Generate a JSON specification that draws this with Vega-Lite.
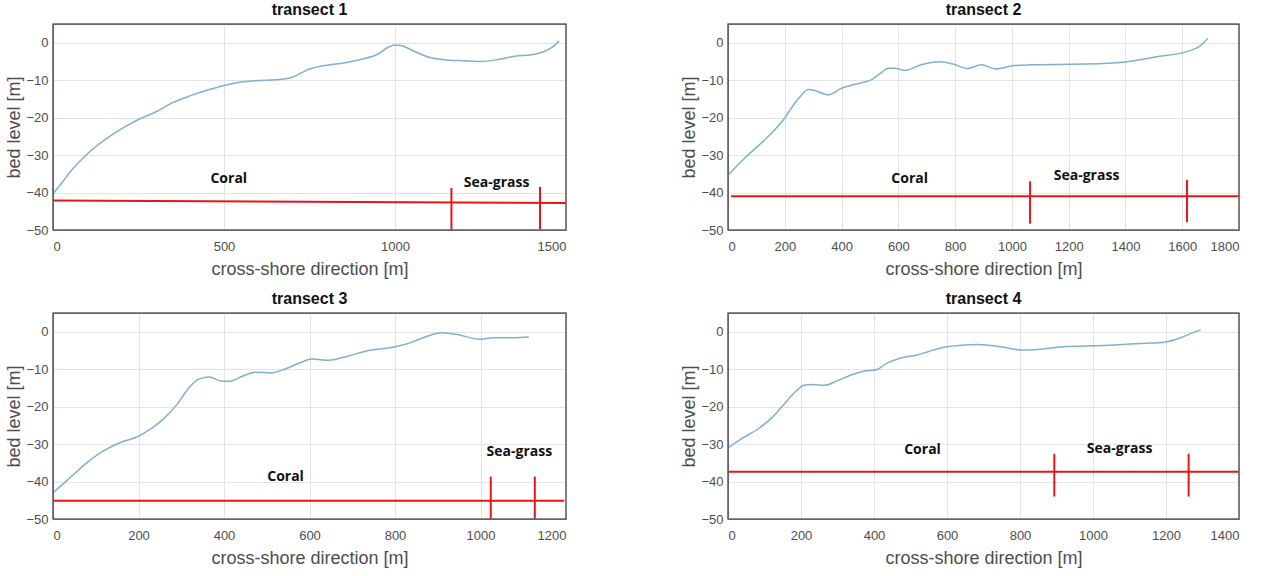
{
  "$schema": "https://vega.github.io/schema/vega-lite/v6.json",
  "padding": {"left": 5, "top": 1, "right": 5, "bottom": 2},
  "background": "white",
  "config": {
    "view": {"stroke": "#6e6e6e", "strokeWidth": 1},
    "title": {"font": "Liberation Sans", "fontSize": 16, "fontWeight": "bold", "color": "#111", "offset": 5},
    "axis": {
      "domain": true, "domainColor": "#6e6e6e", "ticks": false, "format": "d",
      "labelFont": "Liberation Sans", "labelFontSize": 13, "labelColor": "#4d4d4d",
      "titleFont": "Liberation Sans", "titleFontSize": 18, "titleFontWeight": "normal", "titleColor": "#4d4d4d",
      "gridColor": "#e3e3e3", "gridWidth": 1
    },
    "axisX": {"titlePadding": 7, "labelPadding": 10},
    "axisY": {"titlePadding": 2, "labelPadding": 5}
  },
  "datasets": {
    "p1": [
      {"x": 0, "z": -40.3}, {"x": 25, "z": -37.5}, {"x": 50, "z": -34.5}, {"x": 75, "z": -32}, {"x": 100, "z": -29.7},
      {"x": 150, "z": -26}, {"x": 200, "z": -23}, {"x": 250, "z": -20.5}, {"x": 300, "z": -18.5}, {"x": 350, "z": -16},
      {"x": 400, "z": -14.2}, {"x": 450, "z": -12.7}, {"x": 500, "z": -11.4}, {"x": 550, "z": -10.5}, {"x": 600, "z": -10.1},
      {"x": 650, "z": -9.9}, {"x": 700, "z": -9.2}, {"x": 750, "z": -7}, {"x": 800, "z": -6}, {"x": 850, "z": -5.4},
      {"x": 900, "z": -4.5}, {"x": 950, "z": -3}, {"x": 980, "z": -1.2}, {"x": 1000, "z": -0.6}, {"x": 1020, "z": -0.8},
      {"x": 1050, "z": -2}, {"x": 1100, "z": -3.9}, {"x": 1150, "z": -4.6}, {"x": 1200, "z": -4.8}, {"x": 1250, "z": -5},
      {"x": 1300, "z": -4.5}, {"x": 1350, "z": -3.6}, {"x": 1400, "z": -3.2}, {"x": 1440, "z": -2.2}, {"x": 1460, "z": -1.2},
      {"x": 1480, "z": 0.5}
    ],
    "p2": [
      {"x": 0, "z": -35.4}, {"x": 54, "z": -31.2}, {"x": 111, "z": -27.2}, {"x": 154, "z": -24.1}, {"x": 200, "z": -20.1},
      {"x": 232, "z": -16.5}, {"x": 260, "z": -13.9}, {"x": 282, "z": -12.5}, {"x": 303, "z": -12.7}, {"x": 353, "z": -13.9},
      {"x": 402, "z": -12.1}, {"x": 452, "z": -11}, {"x": 509, "z": -9.7}, {"x": 538, "z": -8.1}, {"x": 566, "z": -6.8},
      {"x": 587, "z": -6.8}, {"x": 623, "z": -7.4}, {"x": 680, "z": -5.9}, {"x": 744, "z": -5.1}, {"x": 793, "z": -5.7},
      {"x": 843, "z": -6.9}, {"x": 893, "z": -5.9}, {"x": 943, "z": -7}, {"x": 1007, "z": -6.1}, {"x": 1064, "z": -5.9},
      {"x": 1249, "z": -5.7}, {"x": 1391, "z": -5.2}, {"x": 1505, "z": -3.8}, {"x": 1619, "z": -2.3}, {"x": 1661, "z": -1},
      {"x": 1690, "z": 1.1}
    ],
    "p3": [
      {"x": 0, "z": -43}, {"x": 31, "z": -39.9}, {"x": 79, "z": -35}, {"x": 117, "z": -31.9}, {"x": 155, "z": -29.7},
      {"x": 200, "z": -27.9}, {"x": 232, "z": -25.7}, {"x": 261, "z": -23}, {"x": 290, "z": -19.4}, {"x": 318, "z": -15},
      {"x": 342, "z": -12.6}, {"x": 366, "z": -12.1}, {"x": 395, "z": -13.2}, {"x": 414, "z": -13.2}, {"x": 443, "z": -11.9},
      {"x": 472, "z": -10.8}, {"x": 510, "z": -11}, {"x": 539, "z": -10.1}, {"x": 578, "z": -8.3}, {"x": 606, "z": -7.3},
      {"x": 645, "z": -7.6}, {"x": 693, "z": -6.4}, {"x": 731, "z": -5.2}, {"x": 798, "z": -4.1}, {"x": 837, "z": -2.9},
      {"x": 875, "z": -1.2}, {"x": 909, "z": -0.3}, {"x": 942, "z": -0.7}, {"x": 1000, "z": -2}, {"x": 1029, "z": -1.6},
      {"x": 1077, "z": -1.6}, {"x": 1113, "z": -1.4}
    ],
    "p4": [
      {"x": 0, "z": -31}, {"x": 42, "z": -28.3}, {"x": 86, "z": -25.7}, {"x": 120, "z": -23}, {"x": 153, "z": -19.4},
      {"x": 186, "z": -15.9}, {"x": 208, "z": -14.3}, {"x": 231, "z": -14.1}, {"x": 264, "z": -14.3}, {"x": 297, "z": -13.2},
      {"x": 341, "z": -11.4}, {"x": 375, "z": -10.5}, {"x": 408, "z": -10.1}, {"x": 430, "z": -8.7}, {"x": 474, "z": -7},
      {"x": 519, "z": -6.2}, {"x": 552, "z": -5.2}, {"x": 596, "z": -4.1}, {"x": 641, "z": -3.6}, {"x": 685, "z": -3.4},
      {"x": 752, "z": -4.1}, {"x": 807, "z": -4.9}, {"x": 840, "z": -4.8}, {"x": 918, "z": -4}, {"x": 1029, "z": -3.7},
      {"x": 1140, "z": -3.1}, {"x": 1195, "z": -2.8}, {"x": 1240, "z": -1.6}, {"x": 1273, "z": -0.3}, {"x": 1295, "z": 0.5}
    ],
    "r1": [
      {"x": 0, "x2": 1500, "y": -42.1, "y2": -42.8},
      {"x": 1165, "x2": 1165, "y": -38.8, "y2": -50},
      {"x": 1424, "x2": 1424, "y": -38.5, "y2": -49.9}
    ],
    "r2": [
      {"x": 11, "x2": 1800, "y": -41, "y2": -41},
      {"x": 1064, "x2": 1064, "y": -37, "y2": -48.3},
      {"x": 1617, "x2": 1617, "y": -36.6, "y2": -47.9}
    ],
    "r3": [
      {"x": 0, "x2": 1196, "y": -45.1, "y2": -45.1},
      {"x": 1024, "x2": 1024, "y": -38.7, "y2": -50},
      {"x": 1127, "x2": 1127, "y": -38.7, "y2": -50}
    ],
    "r4": [
      {"x": 0, "x2": 1400, "y": -37.4, "y2": -37.4},
      {"x": 894, "x2": 894, "y": -32.6, "y2": -44},
      {"x": 1262, "x2": 1262, "y": -32.6, "y2": -44}
    ],
    "t1": [{"x": 514, "y": -36.4, "label": "Coral"}, {"x": 1297, "y": -37.5, "label": "Sea-grass"}],
    "t2": [{"x": 640, "y": -36.5, "label": "Coral"}, {"x": 1263, "y": -35.6, "label": "Sea-grass"}],
    "t3": [{"x": 544, "y": -38.9, "label": "Coral"}, {"x": 1091, "y": -32.2, "label": "Sea-grass"}],
    "t4": [{"x": 533, "y": -31.6, "label": "Coral"}, {"x": 1073, "y": -31.3, "label": "Sea-grass"}]
  },
  "vconcat": [
    {
      "hconcat": [
        {
          "width": 513, "height": 206, "title": "transect 1",
          "layer": [
            {"data": {"name": "p1"}, "mark": {"type": "line", "color": "#7fb0cf", "strokeWidth": 1.5, "interpolate": "monotone"},
             "encoding": {
               "x": {"field": "x", "type": "quantitative", "title": "cross-shore direction [m]", "scale": {"domain": [0, 1500], "nice": false}, "axis": {"values": [0, 500, 1000, 1500]}},
               "y": {"field": "z", "type": "quantitative", "title": "bed level [m]", "scale": {"domain": [-50, 5], "nice": false}, "axis": {"values": [0, -10, -20, -30, -40, -50]}}}},
            {"data": {"name": "r1"}, "mark": {"type": "rule", "color": "#e8141a", "strokeWidth": 2},
             "encoding": {"x": {"field": "x", "type": "quantitative", "title": "cross-shore direction [m]"}, "x2": {"field": "x2"}, "y": {"field": "y", "type": "quantitative", "title": "bed level [m]"}, "y2": {"field": "y2"}}},
            {"data": {"name": "t1"}, "mark": {"type": "text", "font": "Open Sans", "fontWeight": "bold", "fontSize": 14, "color": "#111"},
             "encoding": {"x": {"field": "x", "type": "quantitative", "title": "cross-shore direction [m]"}, "y": {"field": "y", "type": "quantitative", "title": "bed level [m]"}, "text": {"field": "label"}}},
            {"data": {"name": "t1"}, "mark": {"type": "rect", "fill": null, "fillOpacity": 0, "stroke": "#626262", "strokeWidth": 1.1},
             "encoding": {"x": {"datum": 0, "type": "quantitative", "title": "cross-shore direction [m]"}, "x2": {"datum": 1500}, "y": {"datum": -50, "type": "quantitative", "title": "bed level [m]"}, "y2": {"datum": 5}}}
          ]
        },
        {
          "width": 511, "height": 206, "title": "transect 2",
          "layer": [
            {"data": {"name": "p2"}, "mark": {"type": "line", "color": "#7fb0cf", "strokeWidth": 1.5, "interpolate": "monotone"},
             "encoding": {
               "x": {"field": "x", "type": "quantitative", "title": "cross-shore direction [m]", "scale": {"domain": [0, 1800], "nice": false}, "axis": {"values": [0, 200, 400, 600, 800, 1000, 1200, 1400, 1600, 1800]}},
               "y": {"field": "z", "type": "quantitative", "title": "bed level [m]", "scale": {"domain": [-50, 5], "nice": false}, "axis": {"values": [0, -10, -20, -30, -40, -50]}}}},
            {"data": {"name": "r2"}, "mark": {"type": "rule", "color": "#e8141a", "strokeWidth": 2},
             "encoding": {"x": {"field": "x", "type": "quantitative", "title": "cross-shore direction [m]"}, "x2": {"field": "x2"}, "y": {"field": "y", "type": "quantitative", "title": "bed level [m]"}, "y2": {"field": "y2"}}},
            {"data": {"name": "t2"}, "mark": {"type": "text", "font": "Open Sans", "fontWeight": "bold", "fontSize": 14, "color": "#111"},
             "encoding": {"x": {"field": "x", "type": "quantitative", "title": "cross-shore direction [m]"}, "y": {"field": "y", "type": "quantitative", "title": "bed level [m]"}, "text": {"field": "label"}}},
            {"data": {"name": "t2"}, "mark": {"type": "rect", "fill": null, "fillOpacity": 0, "stroke": "#626262", "strokeWidth": 1.1},
             "encoding": {"x": {"datum": 0, "type": "quantitative", "title": "cross-shore direction [m]"}, "x2": {"datum": 1800}, "y": {"datum": -50, "type": "quantitative", "title": "bed level [m]"}, "y2": {"datum": 5}}}
          ]
        }
      ],
      "spacing": 112
    },
    {
      "hconcat": [
        {
          "width": 513, "height": 206, "title": "transect 3",
          "layer": [
            {"data": {"name": "p3"}, "mark": {"type": "line", "color": "#7fb0cf", "strokeWidth": 1.5, "interpolate": "monotone"},
             "encoding": {
               "x": {"field": "x", "type": "quantitative", "title": "cross-shore direction [m]", "scale": {"domain": [0, 1200], "nice": false}, "axis": {"values": [0, 200, 400, 600, 800, 1000, 1200]}},
               "y": {"field": "z", "type": "quantitative", "title": "bed level [m]", "scale": {"domain": [-50, 5], "nice": false}, "axis": {"values": [0, -10, -20, -30, -40, -50]}}}},
            {"data": {"name": "r3"}, "mark": {"type": "rule", "color": "#e8141a", "strokeWidth": 2},
             "encoding": {"x": {"field": "x", "type": "quantitative", "title": "cross-shore direction [m]"}, "x2": {"field": "x2"}, "y": {"field": "y", "type": "quantitative", "title": "bed level [m]"}, "y2": {"field": "y2"}}},
            {"data": {"name": "t3"}, "mark": {"type": "text", "font": "Open Sans", "fontWeight": "bold", "fontSize": 14, "color": "#111"},
             "encoding": {"x": {"field": "x", "type": "quantitative", "title": "cross-shore direction [m]"}, "y": {"field": "y", "type": "quantitative", "title": "bed level [m]"}, "text": {"field": "label"}}},
            {"data": {"name": "t3"}, "mark": {"type": "rect", "fill": null, "fillOpacity": 0, "stroke": "#626262", "strokeWidth": 1.1},
             "encoding": {"x": {"datum": 0, "type": "quantitative", "title": "cross-shore direction [m]"}, "x2": {"datum": 1200}, "y": {"datum": -50, "type": "quantitative", "title": "bed level [m]"}, "y2": {"datum": 5}}}
          ]
        },
        {
          "width": 511, "height": 206, "title": "transect 4",
          "layer": [
            {"data": {"name": "p4"}, "mark": {"type": "line", "color": "#7fb0cf", "strokeWidth": 1.5, "interpolate": "monotone"},
             "encoding": {
               "x": {"field": "x", "type": "quantitative", "title": "cross-shore direction [m]", "scale": {"domain": [0, 1400], "nice": false}, "axis": {"values": [0, 200, 400, 600, 800, 1000, 1200, 1400]}},
               "y": {"field": "z", "type": "quantitative", "title": "bed level [m]", "scale": {"domain": [-50, 5], "nice": false}, "axis": {"values": [0, -10, -20, -30, -40, -50]}}}},
            {"data": {"name": "r4"}, "mark": {"type": "rule", "color": "#e8141a", "strokeWidth": 2},
             "encoding": {"x": {"field": "x", "type": "quantitative", "title": "cross-shore direction [m]"}, "x2": {"field": "x2"}, "y": {"field": "y", "type": "quantitative", "title": "bed level [m]"}, "y2": {"field": "y2"}}},
            {"data": {"name": "t4"}, "mark": {"type": "text", "font": "Open Sans", "fontWeight": "bold", "fontSize": 14, "color": "#111"},
             "encoding": {"x": {"field": "x", "type": "quantitative", "title": "cross-shore direction [m]"}, "y": {"field": "y", "type": "quantitative", "title": "bed level [m]"}, "text": {"field": "label"}}},
            {"data": {"name": "t4"}, "mark": {"type": "rect", "fill": null, "fillOpacity": 0, "stroke": "#626262", "strokeWidth": 1.1},
             "encoding": {"x": {"datum": 0, "type": "quantitative", "title": "cross-shore direction [m]"}, "x2": {"datum": 1400}, "y": {"datum": -50, "type": "quantitative", "title": "bed level [m]"}, "y2": {"datum": 5}}}
          ]
        }
      ],
      "spacing": 112
    }
  ],
  "spacing": 11
}
